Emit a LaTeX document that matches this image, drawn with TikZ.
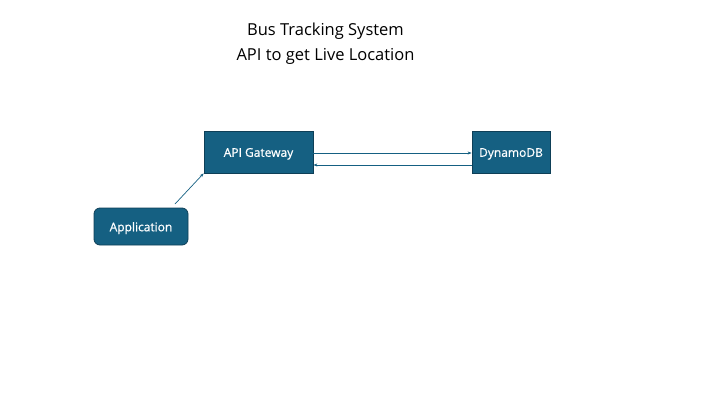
\documentclass[tikz,border=0pt]{standalone}
\usepackage{fontspec}
\newfontfamily\boxfont{Open Sans}[FakeBold=0.6]
\newfontfamily\titlefont{Open Sans}
\usetikzlibrary{arrows.meta}
\definecolor{boxblue}{HTML}{156082}
\definecolor{boxedge}{HTML}{0E3F57}
\tikzset{
  sysbox/.style={draw=boxedge, line width=0.8pt, fill=boxblue, text=white, font=\boxfont\fontsize{12}{14}\selectfont, inner sep=0pt, text height=9.5pt, text depth=0pt},
  conn/.style={draw=boxblue, line width=0.7pt, -{Stealth[length=4pt,width=3pt]}},
  title/.style={font=\titlefont\fontsize{16.5}{20}\selectfont, text=black, inner sep=0pt, text height=12pt, text depth=0pt}
}
\begin{document}
\begin{tikzpicture}[x=1pt,y=-1pt]
\useasboundingbox (0,0) rectangle (720,405);
\node[title] (t1) at (325.5,29) {Bus Tracking System};
\node[title] (t2) at (325.5,54) {API to get Live Location};
\node[sysbox, minimum width=109pt, minimum height=42pt] (api) at (258.5,152) {API Gateway};
\node[sysbox, minimum width=78pt, minimum height=42pt] (db) at (511,152) {DynamoDB};
\node[sysbox, rounded corners=6pt, minimum width=94pt, minimum height=37pt] (app) at (141,226.5) {Application};
\coordinate (appstart) at (175,204);
\draw[conn] (appstart) -- (api.south west);
\draw[conn] (api.east |- 0,153) -- (db.west |- 0,153);
\draw[conn] (db.west |- 0,165) -- (api.east |- 0,165);
\end{tikzpicture}
\end{document}
